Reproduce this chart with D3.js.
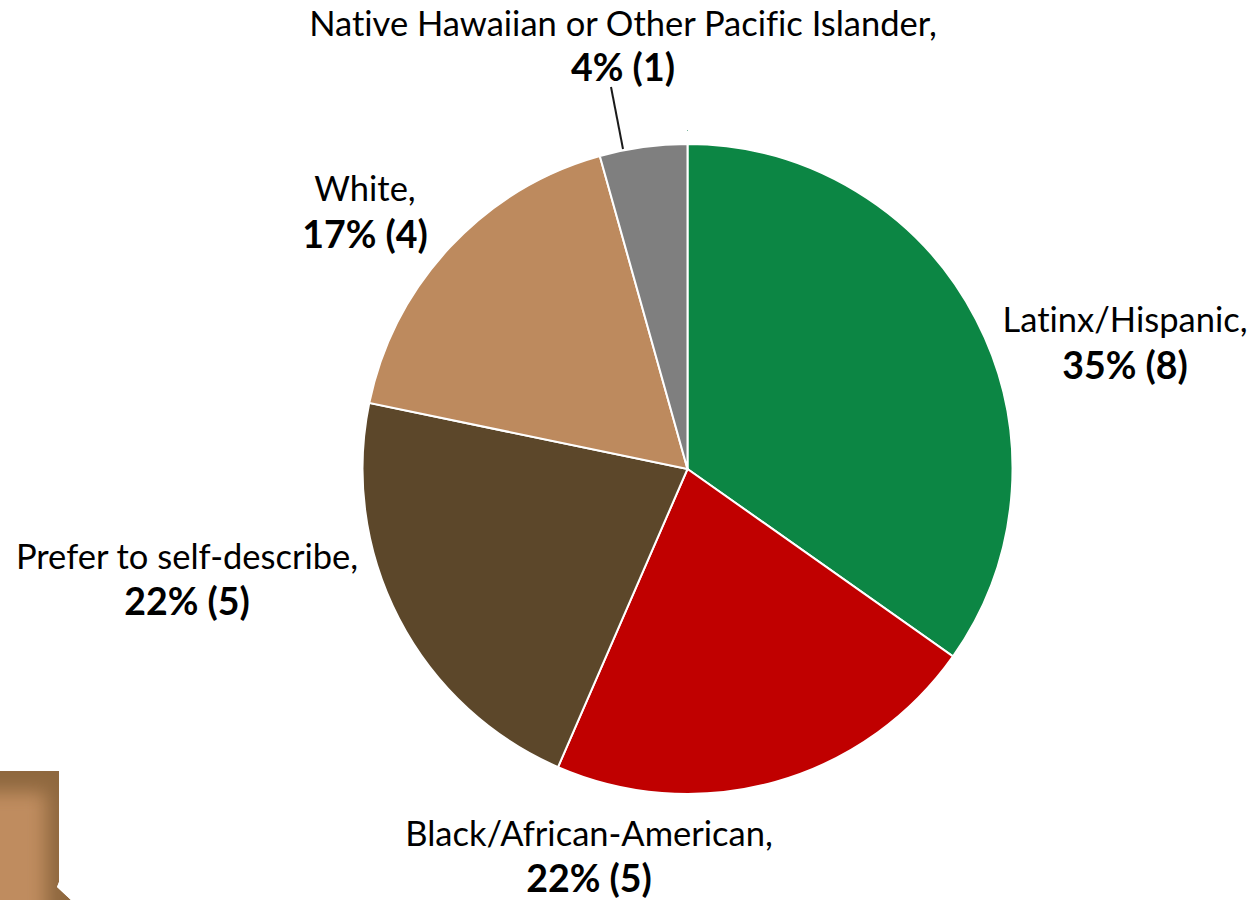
<!DOCTYPE html>
<html>
<head>
<style>
	body { margin: 0; background: #fff; }
	text { font-family: Lato, "Open Sans", sans-serif; fill: #000; font-size: 34.5px; font-variant-ligatures: none; }
	.pct { font-weight: bold; font-size: 37.5px; }
</style>
</head>
<body>
<div id="chart"></div>
<script src="https://cdn.jsdelivr.net/npm/d3@7/dist/d3.min.js"></script>
<script>
var categories = ["Latinx/Hispanic,", "Black/African-American,", "Prefer to self-describe,", "White,", "Native Hawaiian or Other Pacific Islander,"];
var counts = [8, 5, 5, 4, 1];
var percents = ["35% (8)", "22% (5)", "22% (5)", "17% (4)", "4% (1)"];
var colors = ["#0c8644", "#c00000", "#5c472a", "#bd8a5e", "#7f7f7f"];

var w = 1248, h = 900;
var cx = 687.5, cy = 469, r = 325;

var svg = d3.select("#chart").append("svg").attr("width", w).attr("height", h).style("display", "block");

var pie = d3.pie().sort(null)(counts);
var arc = d3.arc().innerRadius(0).outerRadius(r);

svg.selectAll(".slice")
	.data(pie)
	.enter()
	.append("path")
	.attr("class", "slice")
	.attr("transform", "translate(" + cx + "," + cy + ")")
	.attr("d", arc)
	.attr("fill", function(d, i) { return colors[i]; })
	.attr("stroke", "#fff")
	.attr("stroke-width", 2);

// leader line for the small slice
svg.append("line").attr("x1", 611).attr("y1", 87).attr("x2", 623).attr("y2", 149).attr("stroke", "#1a1a1a").attr("stroke-width", 2);

// speck above the pie
svg.append("rect").attr("x", 687).attr("y", 130).attr("width", 1).attr("height", 1).attr("fill", "#7fb8a0");

// labels
var labelPos = [[1125, 332, 379], [589, 846, 892], [187, 569, 615], [365, 201, 248], [623, 36, 81]];
labelPos.forEach(function(p, i) {
	svg.append("text").attr("x", p[0]).attr("y", p[1]).attr("text-anchor", "middle").text(categories[i]);
	svg.append("text").attr("class", "pct").attr("x", p[0]).attr("y", p[2]).attr("text-anchor", "middle").text(percents[i]);
});

// brown corner shape: sharp outline, soft lighter middle
var cornerPath = "M0,771 H59 V882 L57,887 L71,900 H0 Z";
var defs = svg.append("defs");
defs.append("clipPath").attr("id", "cornerClip").append("path").attr("d", cornerPath);
defs.append("filter").attr("id", "soft").attr("x", "-50%").attr("y", "-50%").attr("width", "200%").attr("height", "200%")
	.append("feGaussianBlur").attr("stdDeviation", 9);
var corner = svg.append("g").attr("clip-path", "url(#cornerClip)");
corner.append("path").attr("d", cornerPath).attr("fill", "#8f683f");
corner.append("path").attr("d", "M-30,792 H46 V930 H-30 Z").attr("fill", "#bf8c5f").attr("filter", "url(#soft)");
</script>
</body>
</html>
